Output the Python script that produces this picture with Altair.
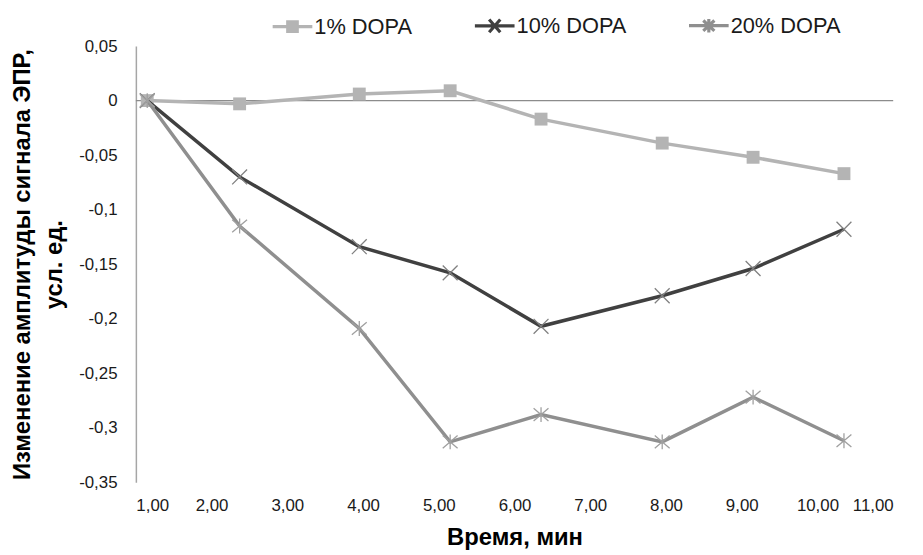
import altair as alt
import pandas as pd

# ---- data ----
series_names = ["1% DOPA", "10% DOPA", "20% DOPA"]
times = [1.15, 2.37, 3.95, 5.15, 6.35, 7.95, 9.15, 10.35]
dopa_1 = [0.0, -0.003, 0.006, 0.009, -0.017, -0.039, -0.052, -0.067]
dopa_10 = [0.0, -0.070, -0.134, -0.158, -0.207, -0.179, -0.154, -0.118]
dopa_20 = [0.0, -0.115, -0.209, -0.313, -0.288, -0.313, -0.272, -0.312]
x_ticks = [1, 2, 3, 4, 5, 6, 7, 8, 9, 10, 11]
y_ticks = [0.05, 0.0, -0.05, -0.1, -0.15, -0.2, -0.25, -0.3, -0.35]
zero_line = [0.0]

rows = []
for name, vals in zip(series_names, [dopa_1, dopa_10, dopa_20]):
    for t, v in zip(times, vals):
        rows.append({"series": name, "time": t, "value": v})
df = pd.DataFrame(rows)

line_colors = ["#b4b4b4", "#404040", "#8f8f8f"]
FONT = "Liberation Sans"

x_path = "M-1,-1L1,1M-1,1L1,-1"
star_path = "M-1,-0.85L1,0.85M-1,0.85L1,-0.85M0,-1L0,1"
legend_paths = [
    "M-1,0L1,0M-0.32,-0.24L0.32,-0.24M-0.32,-0.08L0.32,-0.08M-0.32,0.08L0.32,0.08M-0.32,0.24L0.32,0.24",
    "M-1,0L1,0M-0.28,-0.32L0.28,0.32M-0.28,0.32L0.28,-0.32",
    "M-1,0L1,0M-0.28,-0.26L0.28,0.26M-0.28,0.26L0.28,-0.26M0,-0.34L0,0.34",
]

x_scale = alt.Scale(domain=[1, 11], nice=False, zero=False)
y_scale = alt.Scale(domain=[-0.35, 0.05], nice=False, zero=False)

x_enc = alt.X(
    "time:Q",
    scale=x_scale,
    axis=alt.Axis(
        values=x_ticks,
        labelExpr="replace(format(datum.value, '.2f'), '.', ',')",
        title="Время, мин",
        domain=False,
        ticks=False,
        tickSize=0,
        grid=False,
        labelPadding=16,
        labelFont=FONT,
        labelFontSize=17,
        labelColor="#1a1a1a",
        titleFont=FONT,
        titleFontSize=24,
        titleFontWeight="bold",
        titleColor="#000000",
        titlePadding=12,
    ),
)
y_enc = alt.Y(
    "value:Q",
    scale=y_scale,
    axis=alt.Axis(
        values=y_ticks,
        labelExpr="replace(replace(format(datum.value, '.2~f'), '.', ','), '\u2212', '-')",
        title=["Изменение амплитуды сигнала ЭПР,", "усл. ед."],
        domain=True,
        domainColor="#a6a6a6",
        domainWidth=1.5,
        ticks=False,
        tickSize=0,
        grid=False,
        labelPadding=19,
        labelFont=FONT,
        labelFontSize=17,
        labelColor="#1a1a1a",
        titleFont=FONT,
        titleFontSize=24,
        titleFontWeight="bold",
        titleColor="#000000",
        titleLineHeight=33,
        titlePadding=12,
    ),
)

zero_rule = alt.Chart(pd.DataFrame({"value": zero_line})).mark_rule(
    color="#8c8c8c", strokeWidth=1.2
).encode(y=y_enc)

marker_specs = [
    dict(shape="square", filled=True, size=169, color=line_colors[0], opacity=1),
    dict(shape=x_path, filled=False, size=225, stroke="#808080", strokeWidth=1.3, opacity=1),
    dict(shape=star_path, filled=False, size=225, stroke="#a0a0a0", strokeWidth=1.3, opacity=1),
]

layers = [zero_rule]
for name, col, mspec in zip(series_names, line_colors, marker_specs):
    sub = alt.Chart(df).transform_filter(alt.datum.series == name)
    layers.append(
        sub.mark_line(strokeWidth=3.5, color=col).encode(
            x=x_enc, y=y_enc, order=alt.Order("time:Q")
        )
    )
    layers.append(sub.mark_point(**mspec).encode(x=x_enc, y=y_enc))

leg = alt.Legend(
    title=None,
    orient="none",
    legendX=136,
    legendY=-43,
    direction="horizontal",
    labelFont=FONT,
    labelFontSize=22,
    labelColor="#1a1a1a",
    labelOffset=0,
    columnPadding=56,
    symbolSize=1600,
    symbolStrokeWidth=3.2,
    symbolOpacity=1,
)

legend_layer = alt.Chart(df).transform_filter(alt.datum.time == times[0]).mark_point(
    filled=False, size=1600, strokeWidth=3.2, opacity=0
).encode(
    x=x_enc,
    y=y_enc,
    shape=alt.Shape("series:N", scale=alt.Scale(domain=series_names, range=legend_paths), legend=leg),
    color=alt.Color("series:N", scale=alt.Scale(domain=series_names, range=line_colors), legend=leg),
)
layers.append(legend_layer)

chart = alt.layer(*layers).properties(
    width=764,
    height=440,
    autosize=alt.AutoSizeParams(type="none"),
    padding={"left": 129, "top": 36, "right": 22, "bottom": 68},
    background="white",
).configure_view(stroke=None)

chart.save("out.html", embed_options={"renderer": "svg", "actions": False})
